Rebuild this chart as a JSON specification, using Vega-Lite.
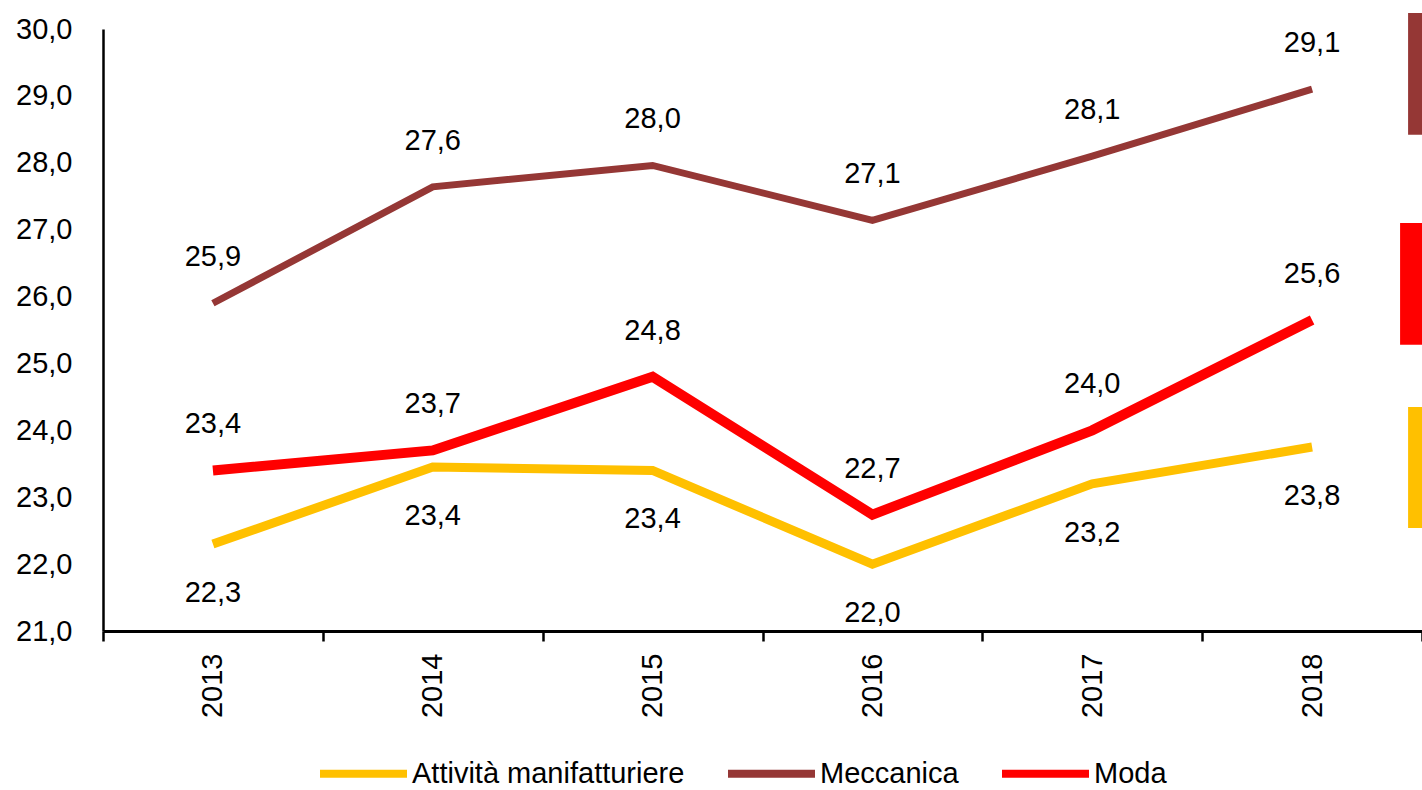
{
  "$schema": "https://vega.github.io/schema/vega-lite/v6.json",
  "autosize": {"type": "none"},
  "width": 1319,
  "height": 602,
  "padding": {"left": 103, "top": 29, "right": 0, "bottom": 159},
  "datasets": {
    "series": [
      {"year": "2013", "series": "Attività manifatturiere", "value": 22.3},
      {"year": "2014", "series": "Attività manifatturiere", "value": 23.45},
      {"year": "2015", "series": "Attività manifatturiere", "value": 23.4},
      {"year": "2016", "series": "Attività manifatturiere", "value": 22.0},
      {"year": "2017", "series": "Attività manifatturiere", "value": 23.2},
      {"year": "2018", "series": "Attività manifatturiere", "value": 23.75},
      {"year": "2013", "series": "Meccanica", "value": 25.9},
      {"year": "2014", "series": "Meccanica", "value": 27.64},
      {"year": "2015", "series": "Meccanica", "value": 27.96},
      {"year": "2016", "series": "Meccanica", "value": 27.14},
      {"year": "2017", "series": "Meccanica", "value": 28.1},
      {"year": "2018", "series": "Meccanica", "value": 29.1},
      {"year": "2013", "series": "Moda", "value": 23.4},
      {"year": "2014", "series": "Moda", "value": 23.7},
      {"year": "2015", "series": "Moda", "value": 24.8},
      {"year": "2016", "series": "Moda", "value": 22.74},
      {"year": "2017", "series": "Moda", "value": 24.0},
      {"year": "2018", "series": "Moda", "value": 25.65}
    ],
    "marks": [
      {"year": "2018", "series": "Meccanica", "top": 30.24, "bottom": 28.42},
      {"year": "2018", "series": "Moda", "top": 27.1, "bottom": 25.28},
      {"year": "2018", "series": "Attività manifatturiere", "top": 24.35, "bottom": 22.54}
    ]
  },
  "encoding": {
    "x": {
      "field": "year", "type": "ordinal",
      "scale": {"paddingInner": 0, "paddingOuter": -0.032, "align": 0},
      "axis": {
        "title": null, "labelAngle": -90, "tickBand": "extent",
        "tickSize": 10, "tickWidth": 2.5, "tickColor": "#000",
        "domainColor": "#000", "domainWidth": 3, "labelPadding": 12,
        "labelFontSize": 29, "labelColor": "#000", "grid": false
      }
    },
    "color": {
      "field": "series", "type": "nominal",
      "scale": {
        "domain": ["Attività manifatturiere", "Meccanica", "Moda"],
        "range": ["#FFC000", "#953735", "#FF0000"]
      },
      "legend": {
        "title": null, "orient": "none", "direction": "horizontal",
        "legendX": 213, "legendY": 697,
        "symbolType": "stroke", "symbolSize": 7569, "symbolStrokeWidth": 8,
        "labelFontSize": 29, "labelColor": "#000", "labelOffset": 1,
        "labelLimit": 0, "columnPadding": 27
      }
    }
  },
  "layer": [
    {
      "data": {"name": "marks"},
      "transform": [{"filter": "datum.series !== 'Moda'"}],
      "mark": {"type": "bar", "width": 30, "xOffset": 111},
      "encoding": {
        "y": {"field": "top", "type": "quantitative"},
        "y2": {"field": "bottom"}
      }
    },
    {
      "data": {"name": "marks"},
      "transform": [{"filter": "datum.series === 'Moda'"}],
      "mark": {"type": "bar", "width": 44, "xOffset": 110},
      "encoding": {
        "y": {"field": "top", "type": "quantitative"},
        "y2": {"field": "bottom"}
      }
    },
    {
      "data": {"name": "series"},
      "transform": [{"filter": "datum.series === 'Attività manifatturiere'"}],
      "mark": {"type": "line", "strokeWidth": 9},
      "encoding": {
        "y": {
          "field": "value", "type": "quantitative",
          "scale": {"domain": [21, 30], "nice": false, "zero": false},
          "axis": {
            "title": null, "values": [21,22,23,24,25,26,27,28,29,30],
            "format": ".1f", "ticks": false, "grid": false,
            "domainColor": "#000", "domainWidth": 2.5, "labelPadding": 31,
            "labelFontSize": 29, "labelColor": "#000"
          }
        }
      }
    },
    {
      "data": {"name": "series"},
      "transform": [{"filter": "datum.series === 'Meccanica'"}],
      "mark": {"type": "line", "strokeWidth": 7},
      "encoding": {
        "y": {"field": "value", "type": "quantitative"}
      }
    },
    {
      "data": {"name": "series"},
      "transform": [{"filter": "datum.series === 'Moda'"}],
      "mark": {"type": "line", "strokeWidth": 10},
      "encoding": {
        "y": {"field": "value", "type": "quantitative"}
      }
    },
    {
      "data": {"name": "series"},
      "transform": [{"filter": "datum.series === 'Meccanica'"}],
      "mark": {"type": "text", "dy": -46, "fontSize": 29, "color": "#000"},
      "encoding": {
        "y": {"field": "value", "type": "quantitative"},
        "text": {"field": "value", "type": "quantitative", "format": ".1f"},
        "color": {"value": "#000"}
      }
    },
    {
      "data": {"name": "series"},
      "transform": [{"filter": "datum.series === 'Moda'"}],
      "mark": {"type": "text", "dy": -46, "fontSize": 29, "color": "#000"},
      "encoding": {
        "y": {"field": "value", "type": "quantitative"},
        "text": {"field": "value", "type": "quantitative", "format": ".1f"},
        "color": {"value": "#000"}
      }
    },
    {
      "data": {"name": "series"},
      "transform": [{"filter": "datum.series === 'Attività manifatturiere'"}],
      "mark": {"type": "text", "dy": 49, "fontSize": 29, "color": "#000"},
      "encoding": {
        "y": {"field": "value", "type": "quantitative"},
        "text": {"field": "value", "type": "quantitative", "format": ".1f"},
        "color": {"value": "#000"}
      }
    }
  ],
  "config": {
    "view": {"stroke": null},
    "font": "Liberation Sans",
    "locale": {
      "number": {"decimal": ",", "thousands": ".", "grouping": [3], "currency": ["", " €"]}
    }
  }
}
